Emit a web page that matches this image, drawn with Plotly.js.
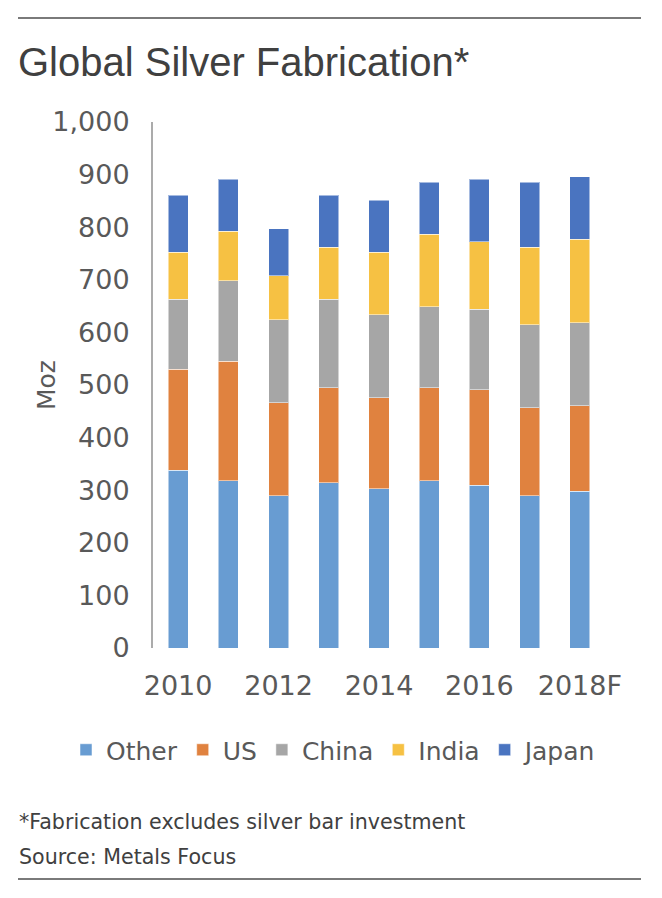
<!DOCTYPE html>
<html>
<head>
<meta charset="utf-8">
<script src="https://cdn.plot.ly/plotly-3.0.1.min.js"></script>
<style>html,body{margin:0;padding:0;background:#fff;}#chart{width:662px;height:898px;}</style>
</head>
<body>
<div id="chart"></div>
<script>
const years = ['2010','2011','2012','2013','2014','2015','2016','2017','2018F'];
const tickYears = ['2010','2012','2014','2016','2018F'];
const other = [338, 318, 289, 314, 303, 318, 309, 289, 298];
const us    = [192, 227, 177, 181, 173, 177, 182, 168, 163];
const china = [133, 153, 158, 168, 158, 154, 153, 158, 157];
const india = [ 89,  94,  84,  99, 118, 138, 128, 147, 159];
const japan = [109,  99,  89,  99,  99,  98, 119, 123, 119];

const seriesNames = ['Other','US','China','India','Japan'];
const seriesColors = ['#689CD2','#E0823F','#A6A6A6','#F6C143','#4A74C0'];
const seriesValues = [other, us, china, india, japan];

const traces = seriesValues.map((v,i)=>({
  type:'bar', x: years, y: v, name: seriesNames[i],
  marker:{color: seriesColors[i], line:{color:'rgba(255,255,255,0.5)', width:1}},
  hoverinfo:'x+y+name'
}));

const W=662, H=898, L=153, R=57, T=122, B=250;
const pw=W-L-R, ph=H-T-B;
const px = x => (x-L)/pw;
const py = y => (H-B-y)/ph;

const tickFont = {family:'DejaVu Sans', size:27, color:'#595959'};
const layout = {
  width:W, height:H,
  margin:{l:L, r:R, t:T, b:B, pad:0},
  paper_bgcolor:'#fff', plot_bgcolor:'#fff',
  barmode:'stack', bargap:0.6,
  title:{text:'Global Silver Fabrication*', x:18/W, xanchor:'left', xref:'container',
         y:1-62/H, yanchor:'middle', yref:'container',
         font:{family:'Liberation Sans Narrow, Liberation Sans, sans-serif', size:40, color:'#404040'}},
  xaxis:{type:'category', showline:false, showgrid:false, zeroline:false, ticks:'',
         tickmode:'array', tickvals:tickYears, ticktext:tickYears,
         tickfont:tickFont, ticklabelstandoff:19, fixedrange:true},
  yaxis:{range:[0,1000], dtick:100, tickformat:',', showgrid:false, zeroline:false,
         showline:true, linecolor:'#ABABAB', linewidth:2, ticks:'',
         tickfont:tickFont, ticklabelstandoff:16, fixedrange:true},
  showlegend:true,
  legend:{orientation:'h', traceorder:'normal', x:px(66), xanchor:'left', y:py(750), yanchor:'middle',
          font:{family:'DejaVu Sans', size:25, color:'#595959'}, itemwidth:30, tracegroupgap:0,
          bgcolor:'rgba(0,0,0,0)'},
  annotations:[
    {text:'Moz', textangle:-90, xref:'paper', yref:'paper', x:px(46), y:py(385),
     xanchor:'center', yanchor:'middle', showarrow:false,
     font:{family:'DejaVu Sans', size:25, color:'#595959'}},
    {text:'*Fabrication excludes silver bar investment', xref:'paper', yref:'paper',
     x:px(17), y:py(822), xanchor:'left', yanchor:'middle', showarrow:false,
     font:{family:'DejaVu Sans', size:20.6, color:'#404040'}},
    {text:'Source: Metals Focus', xref:'paper', yref:'paper',
     x:px(17), y:py(857), xanchor:'left', yanchor:'middle', showarrow:false,
     font:{family:'DejaVu Sans', size:20.6, color:'#404040'}}
  ],
  shapes:[
    {type:'line', xref:'paper', yref:'paper', x0:px(18), x1:px(641), y0:py(18), y1:py(18),
     line:{color:'#7a7a7a', width:2}},
    {type:'line', xref:'paper', yref:'paper', x0:px(18), x1:px(641), y0:py(879), y1:py(879),
     line:{color:'#7a7a7a', width:2}}
  ]
};
Plotly.newPlot('chart', traces, layout, {displayModeBar:false, staticPlot:true});
</script>
</body>
</html>
